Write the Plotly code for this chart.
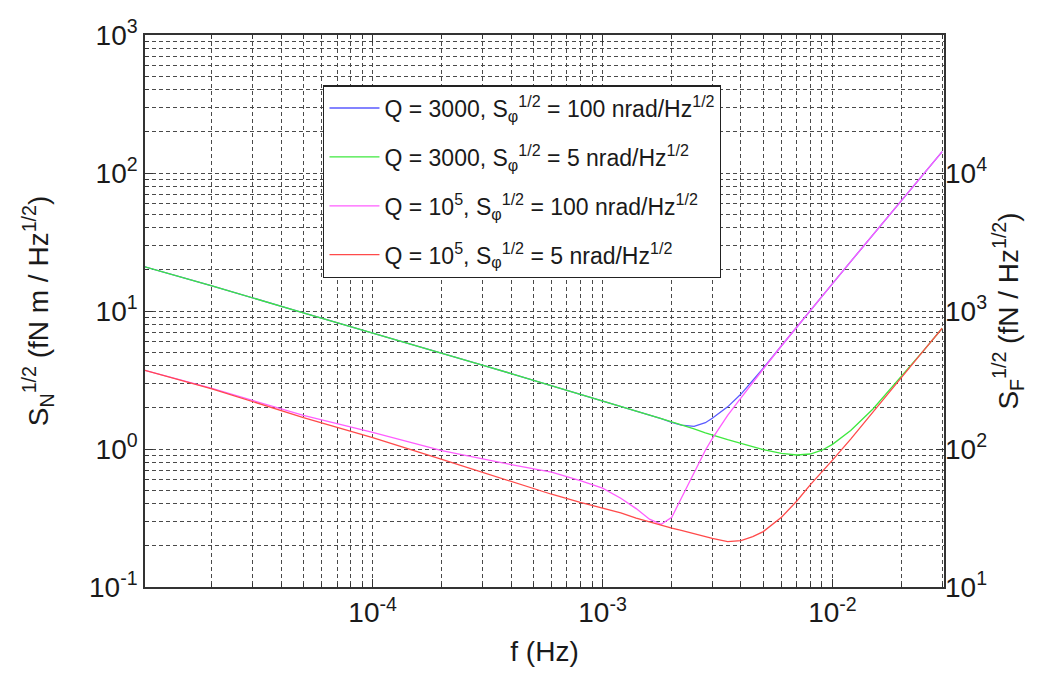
import plotly.graph_objects as go

# frequency grid (Hz)
freq = [1e-5, 2e-5, 5e-5, 1e-4, 2e-4, 3e-4, 4e-4, 6e-4, 8e-4, 1e-3,
        1.2e-3, 1.4e-3, 1.6e-3, 1.8e-3, 2e-3, 2.2e-3, 2.5e-3, 2.8e-3, 3e-3, 3.5e-3,
        4e-3, 4.5e-3, 5e-3, 6e-3, 7e-3, 8e-3, 9e-3, 1e-2, 1.2e-2, 1.5e-2,
        2e-2, 2.5e-2, 3e-2]

# Q = 3000, 100 nrad/Hz^1/2
blue_q3000_100 = [21.1, 15.2, 9.7, 6.95, 4.95, 4.05, 3.52, 2.88, 2.5, 2.24,
                  2.05, 1.9, 1.77, 1.66, 1.56, 1.49, 1.46, 1.55, 1.67, 2.02,
                  2.5, 3.13, 3.85, 5.6, 7.7, 10.1, 12.8, 15.8, 22.8, 35.5,
                  63.5, 99.0, 143.0]
# Q = 3000, 5 nrad/Hz^1/2
green_q3000_5 = [21.1, 15.2, 9.7, 6.95, 4.95, 4.05, 3.52, 2.88, 2.5, 2.24,
                 2.05, 1.9, 1.77, 1.66, 1.57, 1.5, 1.40, 1.31, 1.26, 1.17,
                 1.10, 1.04, 0.99, 0.93, 0.905, 0.92, 0.98, 1.08, 1.36, 1.95,
                 3.38, 5.2, 7.5]
# Q = 1e5, 100 nrad/Hz^1/2
magenta_q1e5_100 = [3.75, 2.75, 1.75, 1.32, 0.975, 0.85, 0.77, 0.68, 0.59, 0.52,
                    0.44, 0.37, 0.31, 0.285, 0.32, 0.44, 0.68, 0.98, 1.19, 1.75,
                    2.35, 3.05, 3.8, 5.6, 7.7, 10.1, 12.8, 15.8, 22.8, 35.5,
                    63.5, 99.0, 143.0]
# Q = 1e5, 5 nrad/Hz^1/2
red_q1e5_5 = [3.75, 2.73, 1.69, 1.21, 0.84, 0.68, 0.58, 0.47, 0.41, 0.375,
              0.345, 0.315, 0.295, 0.28, 0.267, 0.257, 0.243, 0.232, 0.225, 0.213,
              0.217, 0.232, 0.252, 0.32, 0.42, 0.55, 0.68, 0.83, 1.18, 1.86,
              3.35, 5.2, 7.5]

series_names = [
    "Q = 3000, S<sub>φ</sub><sup>1/2</sup> = 100 nrad/Hz<sup>1/2</sup>",
    "Q = 3000, S<sub>φ</sub><sup>1/2</sup> = 5 nrad/Hz<sup>1/2</sup>",
    "Q = 10<sup>5</sup>, S<sub>φ</sub><sup>1/2</sup> = 100 nrad/Hz<sup>1/2</sup>",
    "Q = 10<sup>5</sup>, S<sub>φ</sub><sup>1/2</sup> = 5 nrad/Hz<sup>1/2</sup>",
]
series_values = [blue_q3000_100, green_q3000_5, magenta_q1e5_100, red_q1e5_5]
series_colors = ["#5a5aff", "#3ee83e", "#ff5cff", "#ff4a4a"]

x_major = [1e-4, 1e-3, 1e-2]
x_major_text = ["10<sup>-4</sup>", "10<sup>-3</sup>", "10<sup>-2</sup>"]
y_major = [0.1, 1, 10, 100, 1000]
y_major_text = ["10<sup>-1</sup>", "10<sup>0</sup>", "10<sup>1</sup>", "10<sup>2</sup>", "10<sup>3</sup>"]
y2_major = [10, 100, 1000, 10000]
y2_major_text = ["10<sup>1</sup>", "10<sup>2</sup>", "10<sup>3</sup>", "10<sup>4</sup>"]

x_minor = [m * d for d in [1e-5, 1e-4, 1e-3, 1e-2] for m in range(2, 10) if m * d <= 0.031]
y_minor = [m * d for d in [0.1, 1, 10, 100] for m in range(2, 10)]

FONT = "Liberation Sans, Arial, sans-serif"
TXT = "#1a1a1a"
GRID = "#4a4a4a"
DASH = "4px,3px"

fig = go.Figure()
for name, vals, col in zip(series_names, series_values, series_colors):
    fig.add_trace(go.Scatter(x=freq, y=vals, mode="lines", name=name,
                             legendgroup=name,
                             line=dict(color=col, width=1.3)))
fig.add_trace(go.Scatter(x=[None], y=[None], yaxis="y2", showlegend=False,
                         hoverinfo="skip"))

fig.update_layout(
    width=1033, height=665,
    margin=dict(l=137, r=97, t=27, b=86),
    paper_bgcolor="white", plot_bgcolor="white",
    font=dict(family=FONT, color=TXT, size=22),
    showlegend=True,
    legend=dict(x=0.223, y=0.909, xanchor="left", yanchor="top",
                bgcolor="white", bordercolor="#222", borderwidth=1.3,
                font=dict(size=23, family=FONT, color=TXT),
                traceorder="grouped", tracegroupgap=16, itemwidth=50),
    xaxis=dict(type="log", range=[-4.99, -1.515],
               tickmode="array", tickvals=x_major, ticktext=x_major_text,
               tickfont=dict(size=28), ticks="inside", ticklen=8, tickcolor="#333",
               showgrid=True, gridcolor=GRID, griddash=DASH, gridwidth=1,
               minor=dict(tickmode="array", tickvals=x_minor, ticks="inside",
                          ticklen=4, tickcolor="#333", showgrid=True,
                          gridcolor=GRID, griddash=DASH, gridwidth=1),
               showline=True, linecolor="#333", linewidth=1.5, mirror="ticks",
               zeroline=False, automargin=False,
               title=dict(text="f (Hz)", font=dict(size=28), standoff=14)),
    yaxis=dict(type="log", range=[-1, 3],
               tickmode="array", tickvals=y_major, ticktext=y_major_text,
               tickfont=dict(size=28), ticks="inside", ticklen=8, tickcolor="#333",
               showgrid=True, gridcolor=GRID, griddash=DASH, gridwidth=1,
               minor=dict(tickmode="array", tickvals=y_minor, ticks="inside",
                          ticklen=4, tickcolor="#333", showgrid=True,
                          gridcolor=GRID, griddash=DASH, gridwidth=1),
               showline=True, linecolor="#333", linewidth=1.5, mirror=True,
               zeroline=False, automargin=False,
               title=dict(text="S<sub>N</sub><sup>1/2</sup> (fN m / Hz<sup>1/2</sup>)",
                          font=dict(size=28), standoff=32)),
    yaxis2=dict(type="log", range=[1, 5], overlaying="y", side="right",
                tickmode="array", tickvals=y2_major, ticktext=y2_major_text,
                tickfont=dict(size=28), ticks="inside", ticklen=8, tickcolor="#333",
                showgrid=False, zeroline=False, showline=False, automargin=False,
                title=dict(text="S<sub>F</sub><sup>1/2</sup> (fN / Hz<sup>1/2</sup>)",
                           font=dict(size=28), standoff=12)),
)

fig.write_html("out.html")
